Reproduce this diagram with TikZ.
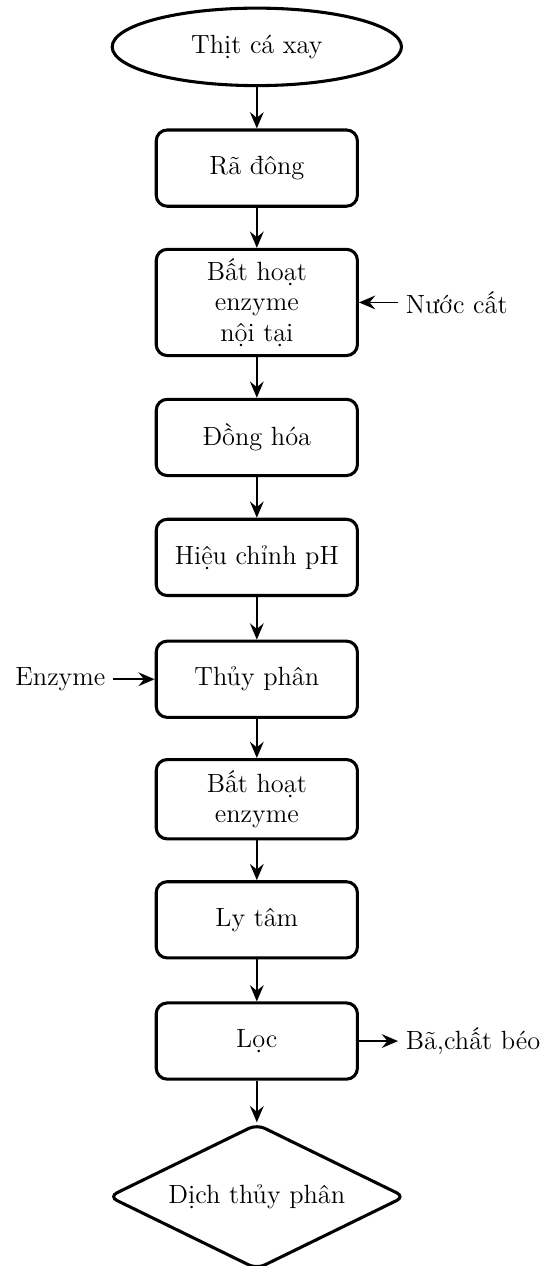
\documentclass[tikz,border=0pt]{standalone}
\usepackage{fontspec}
\usetikzlibrary{shapes.geometric, arrows.meta}

\begin{document}
\begin{tikzpicture}[
		>={Stealth[length=2.6mm, width=2.2mm, inset=0.9mm]},
		startnode/.style={draw, line width=1.4pt, ellipse, minimum width=4.63cm, minimum height=1.24cm, font=\large},
		process/.style={draw, line width=1.4pt, rounded corners=5pt, minimum width=3.22cm, minimum height=1.22cm, align=center, font=\large},
		endnode/.style={draw, line width=1.4pt, diamond, aspect=2, rounded corners=4pt, minimum width=4.75cm, minimum height=2.33cm, font=\large},
		sidetext/.style={font=\large},
		flow/.style={->, thick}
	]
		
		\useasboundingbox (0, 0) rectangle (8.93, -20.26);
		
		% main chain
		\node [startnode] (tcx) at (4.11, -0.75) {Thịt cá xay};
		\node [process] (radong) at (4.11, -2.69) {Rã đông};
		\node [process, minimum height=1.70cm] (bhnoitai) at (4.11, -4.84) {Bất hoạt\\enzyme\\nội tại};
		\node [process] (donghoa) at (4.11, -7.00) {Đồng hóa};
		\node [process] (hieuchinh) at (4.11, -8.92) {Hiệu chỉnh pH};
		\node [process] (thuyphan) at (4.11, -10.87) {Thủy phân};
		\node [process, minimum height=1.27cm] (bhenzyme) at (4.11, -12.79) {Bất hoạt\\enzyme};
		\node [process] (lytam) at (4.11, -14.72) {Ly tâm};
		\node [process] (loc) at (4.11, -16.66) {Lọc};
		\node [endnode] (dichtp) at (4.11, -19.15) {Dịch thủy phân};
		
		% inputs and outputs
		\node [sidetext, anchor=west] (nuoccat) at (6.37, -4.84) {Nước cất};
		\node [sidetext, anchor=east] (enzyme) at (1.81, -10.87) {Enzyme};
		\node [sidetext, anchor=west] (bachatbeo) at (6.37, -16.66) {Bã,chất béo};
		
		\draw [flow] (tcx) -- (radong);
		\draw [flow] (radong) -- (bhnoitai);
		\draw [flow] (bhnoitai) -- (donghoa);
		\draw [flow] (donghoa) -- (hieuchinh);
		\draw [flow] (hieuchinh) -- (thuyphan);
		\draw [flow] (thuyphan) -- (bhenzyme);
		\draw [flow] (bhenzyme) -- (lytam);
		\draw [flow] (lytam) -- (loc);
		\draw [flow] (loc) -- (dichtp);
		
		\draw [flow] (nuoccat) -- (bhnoitai);
		\draw [flow] (enzyme) -- (thuyphan);
		\draw [flow] (loc) -- (bachatbeo);
		
	\end{tikzpicture}
\end{document}
